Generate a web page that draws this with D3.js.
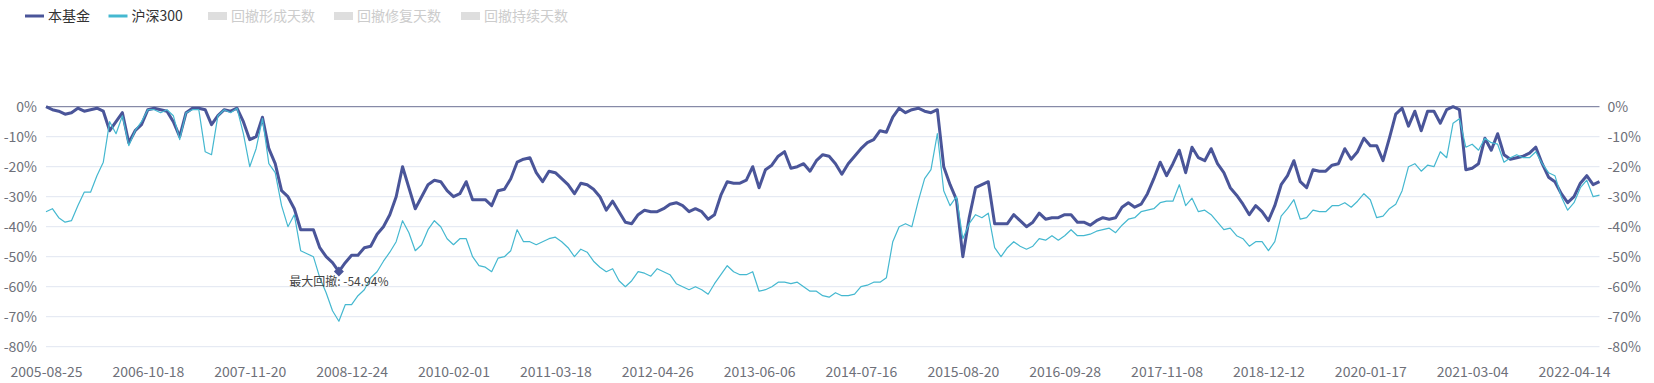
<!DOCTYPE html>
<html>
<head>
<meta charset="utf-8">
<script src="https://cdn.jsdelivr.net/npm/d3@7/dist/d3.min.js"></script>
<style>
  html, body { margin: 0; padding: 0; background: #ffffff; }
  svg { display: block; font-family: "Noto Sans CJK SC", "Noto Sans", sans-serif; }
</style>
</head>
<body>
<div id="chart"></div>
<script>
// ---- data (drawdown %, sampled at equal trading-day steps) ----
const xTickLabels = ["2005-08-25","2006-10-18","2007-11-20","2008-12-24","2010-02-01","2011-03-18","2012-04-26","2013-06-06","2014-07-16","2015-08-20","2016-09-28","2017-11-08","2018-12-12","2020-01-17","2021-03-04","2022-04-14"];
const samplesPerLabel = 16;
const yTicks = [0,-10,-20,-30,-40,-50,-60,-70,-80];
const seriesNames = ["本基金","沪深300"];
const inactiveLegend = ["回撤形成天数","回撤修复天数","回撤持续天数"];

const fund = [
 0,-1,-1.5,-2.5,-2,-0.5,-1.5,-1,-0.5,-1.5,
 -8,-5,-2,-12,-8,-6,-1,-0.5,-1,-1.5,
 -5,-10,-2,-0.5,-0.5,-1,-6,-3,-1,-1.5,
 -0.5,-5,-11,-10,-3.5,-14,-19,-28,-30,-34,
 -41,-41,-41,-47,-50,-52,-54.94,-52,-49.5,-49.5,
 -47,-46.5,-42.5,-40,-36,-30,-20,-27,-34,-30,
 -26,-24.5,-25,-28,-30,-29,-25,-31,-31,-31,
 -33,-28,-27.5,-24,-18.5,-17.5,-17,-22,-25,-21.5,
 -22,-24,-26,-29,-25.5,-26,-27.5,-30,-34.5,-31.5,
 -35,-38.5,-39,-36,-34.5,-35,-35,-34,-32.5,-32,
 -33,-35,-34,-35,-37.5,-36,-29.5,-25,-25.5,-25.5,
 -24.5,-20,-27,-21,-19.5,-16.5,-15,-20.5,-20,-19,
 -21.5,-18,-16,-16.5,-19,-22.5,-19,-16.5,-14,-12,
 -11,-8,-8.5,-3.5,-0.5,-2,-1,-0.5,-1.5,-2,
 -1,-20,-26,-31,-50,-37,-27,-26,-25,-39,
 -39,-39,-36,-38,-40,-38.5,-35.5,-37.5,-37,-37,
 -36,-36,-38.5,-38.5,-39.5,-38,-37,-37.5,-37,-33.5,
 -32,-33.5,-32.5,-29,-24,-18.5,-23,-19,-14.5,-22,
 -13.5,-17,-18,-14,-19,-22,-27,-29.5,-32.5,-36,
 -33,-35,-38,-33,-26,-23,-18,-25,-27,-21,
 -21.5,-21.5,-19.5,-19,-14,-17.5,-15,-10.5,-13,-13,
 -18,-10.5,-2.5,-0.5,-6.5,-1.5,-8,-1.5,-1.5,-5.5,
 -1,0,-1,-21,-20.5,-19,-10.5,-14.5,-9,-16,
 -17.5,-17,-16.5,-15.5,-13.5,-19,-23.5,-25,-29,-32,
 -30,-25.5,-23,-26,-25
];

const hs300 = [
 -35,-34,-37,-38.5,-38,-33,-28.5,-28.5,-23,-18.5,
 -5,-9,-3,-13,-8,-5,-1,-1,-2,-1,
 -3,-11,-2,-1,-1,-15,-16,-3,-1,-2,
 -0.5,-9,-20,-14,-4,-19,-22,-33,-40,-36,
 -48,-49,-50,-57,-62,-68,-71.5,-66,-66,-63,
 -61,-57,-55,-51.5,-48.5,-45,-38,-42,-48,-46,
 -41,-38,-40,-44,-46,-44,-44,-50,-53,-53.5,
 -55,-50.5,-50,-48,-41,-45,-45,-46,-45,-44,
 -43.5,-45,-47,-50,-47.5,-48.5,-51.5,-53.5,-55,-54,
 -58,-60,-58,-55,-55.5,-56.5,-54,-55,-56,-59,
 -60,-61,-60,-61,-62.5,-59,-56,-53,-55,-56,
 -56,-55,-61.5,-61,-60,-58.5,-58.5,-59,-58.5,-60,
 -61.5,-61.5,-63,-63.5,-62,-63,-63,-62.5,-60,-59.5,
 -58.5,-58.5,-57,-45,-40,-39,-40,-31.5,-24,-21,
 -9,-28,-33,-30,-44,-39,-36,-37,-35.5,-47,
 -50,-47,-45,-46.5,-47.5,-46.5,-44,-44.5,-43,-44.5,
 -43,-41,-43,-43,-42.5,-41.5,-41,-40.5,-42,-39.5,
 -37.5,-37,-35,-34.5,-34,-32,-31.5,-31.5,-26,-33,
 -30.5,-35,-34.5,-36,-38.5,-41,-40.5,-43,-44,-46.5,
 -45,-45,-48,-45,-36.5,-34,-31,-37.5,-37,-34.5,
 -35,-35,-33,-33,-32,-33.5,-31.5,-29,-31,-37,
 -36.5,-34,-32.5,-28,-20,-19,-21.5,-19.5,-20,-15,
 -17,-5.5,-4,-13.5,-12.5,-14.5,-10.5,-12,-12.5,-18.5,
 -17,-16,-17,-17,-15,-19,-22,-23,-30,-34.5,
 -32,-27,-24.5,-30,-29.5
];

// ---- layout ----
const W = 1654, H = 383;
const colors = { fund: "#4a5599", hs: "#45b8d0", grid: "#E0E6F1", zero: "#6b6f93", label: "#6E7079" };
const svg = d3.select("#chart").append("svg").attr("width", W).attr("height", H);

const x = d3.scaleLinear().domain([0, fund.length - 1]).range([46, 1599.5]);
const y = d3.scaleLinear().domain([-80, 0]).range([346.7, 106.7]);

// grid lines
svg.append("g").selectAll("line").data(yTicks.filter(d => d !== 0)).join("line")
  .attr("x1", x(0)).attr("x2", x(fund.length - 1))
  .attr("y1", d => y(d)).attr("y2", d => y(d))
  .attr("stroke", colors.grid).attr("stroke-width", 1);

// y axes
const fmt = d => d + "%";
const yl = svg.append("g").attr("transform", `translate(${x(0)},0)`)
  .call(d3.axisLeft(y).tickValues(yTicks).tickSize(0).tickPadding(9).tickFormat(fmt));
const yr = svg.append("g").attr("transform", `translate(${x(fund.length - 1)},0)`)
  .call(d3.axisRight(y).tickValues(yTicks).tickSize(0).tickPadding(8).tickFormat(fmt));
[yl, yr].forEach(g => {
  g.select(".domain").remove();
  g.selectAll("text").attr("fill", colors.label).style("font-size", "14px")
    .style("font-family", '"Noto Sans CJK SC", "Noto Sans", sans-serif');
});

// x axis
const xTickIdx = xTickLabels.map((_, i) => i * samplesPerLabel);
const xa = svg.append("g").attr("transform", "translate(0,372)")
  .call(d3.axisBottom(x).tickValues(xTickIdx).tickSize(0).tickPadding(0)
    .tickFormat((d, i) => xTickLabels[i]));
xa.select(".domain").remove();
xa.selectAll("text").attr("y", 0).attr("dy", "0.35em").attr("fill", colors.label)
  .style("font-size", "14px").style("font-family", '"Noto Sans CJK SC", "Noto Sans", sans-serif');

// zero line
svg.append("line").attr("x1", x(0)).attr("x2", x(fund.length - 1))
  .attr("y1", y(0)).attr("y2", y(0)).attr("stroke", colors.zero).attr("stroke-width", 1);

// lines
const line = d3.line().x((d, i) => x(i)).y(d => y(d));
svg.append("path").datum(fund).attr("d", line).attr("fill", "none")
  .attr("stroke", colors.fund).attr("stroke-width", 3).attr("stroke-linejoin", "round");
svg.append("path").datum(hs300).attr("d", line).attr("fill", "none")
  .attr("stroke", colors.hs).attr("stroke-width", 1.2).attr("stroke-linejoin", "round");

// max drawdown marker
const minVal = d3.min(fund);
const minIdx = fund.indexOf(minVal);
const mx = x(minIdx), my = y(minVal);
svg.append("path").attr("d", `M${mx},${my - 5}L${mx + 5},${my}L${mx},${my + 5}L${mx - 5},${my}Z`)
  .attr("fill", colors.fund);
svg.append("text").attr("x", mx).attr("y", my + 10).attr("dy", "0.35em")
  .attr("text-anchor", "middle").attr("fill", "#444").style("font-size", "12px")
  .text("最大回撤: " + minVal.toFixed(2) + "%");

// legend
const lg = svg.append("g").style("font-size", "14px");
const ly = 16;
const activeLegend = [
  { name: seriesNames[0], color: colors.fund, x: 25 },
  { name: seriesNames[1], color: colors.hs, x: 108.5 }
];
activeLegend.forEach(d => {
  lg.append("line").attr("x1", d.x).attr("x2", d.x + 19).attr("y1", ly).attr("y2", ly)
    .attr("stroke", d.color).attr("stroke-width", 3);
  lg.append("text").attr("x", d.x + 23).attr("y", ly).attr("dy", "0.35em")
    .attr("fill", "#333").text(d.name);
});
const inactiveX = [208, 334, 461];
inactiveLegend.forEach((name, i) => {
  lg.append("rect").attr("x", inactiveX[i]).attr("y", ly - 4).attr("width", 19).attr("height", 8)
    .attr("fill", "#dedede");
  lg.append("text").attr("x", inactiveX[i] + 23).attr("y", ly).attr("dy", "0.35em")
    .attr("fill", "#cccccc").text(name);
});
</script>
</body>
</html>
